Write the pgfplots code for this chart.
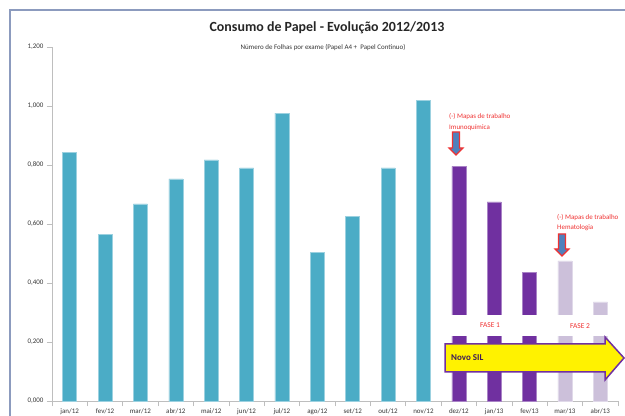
\documentclass[border=0pt]{standalone}
\usepackage{pgfplots}
\pgfplotsset{compat=1.18}
\usepackage{fontspec}
\setmainfont{Carlito}
\definecolor{teal1}{HTML}{4BACC6}
\definecolor{purp}{HTML}{7030A0}
\definecolor{lav}{HTML}{CCC0DA}
\definecolor{framec}{RGB}{140,155,190}
\definecolor{axgray}{RGB}{190,190,190}
\definecolor{txt}{RGB}{55,55,55}
\definecolor{steel}{HTML}{4F81BD}
\definecolor{redt}{RGB}{240,50,50}
\begin{document}
\begin{tikzpicture}
\path[use as bounding box] (0bp,0bp) rectangle (625bp,416bp);
\begin{scope}
\clip (0bp,0bp) rectangle (625bp,416bp);
\fill[white] (0bp,0bp) rectangle (625bp,416bp);
\draw[framec, line width=2bp] (10bp,-2bp) -- (10bp,406bp) -- (630bp,406bp);
\begin{axis}[at={(52bp,15bp)}, anchor=south west, scale only axis,
  width=566bp, height=354bp,
  xmin=-0.5, xmax=15.5, ymin=0, ymax=1.2,
  axis x line*=bottom, axis y line*=left,
  axis line style={axgray, line width=0.6bp},
  ytick={0,0.2,0.4,0.6,0.8,1.0,1.2},
  yticklabel style={/pgf/number format/.cd, fixed, fixed zerofill, precision=3, use comma, assume math mode=true},
  xtick={0,1,2,3,4,5,6,7,8,9,10,11,12,13,14,15},
  xticklabels={jan/12,fev/12,mar/12,abr/12,mai/12,jun/12,jul/12,ago/12,set/12,out/12,nov/12,dez/12,jan/13,fev/13,mar/13,abr/13},
  minor xtick={-0.5,0.5,1.5,2.5,3.5,4.5,5.5,6.5,7.5,8.5,9.5,10.5,11.5,12.5,13.5,14.5,15.5},
  tick align=outside, major tick length=5bp, minor tick length=5bp,
  major x tick style={draw=none}, minor x tick style={axgray, line width=0.6bp},
  y tick style={axgray, line width=0.6bp},
  ticklabel style={font=\fontsize{7}{8}\selectfont, text=txt},
  xticklabel style={yshift=0.5bp},
  clip=false,
]
\addplot[ybar, bar shift=0pt, bar width=14bp, fill=teal1, draw=teal1!55!white, line width=0.5bp]
  coordinates {(0,0.844) (1,0.566) (2,0.668) (3,0.753) (4,0.817) (5,0.790) (6,0.976) (7,0.503) (8,0.627) (9,0.790) (10,1.020)};
\addplot[ybar, bar shift=0pt, bar width=14bp, fill=purp, draw=purp!60!white, line width=0.5bp]
  coordinates {(11,0.795) (12,0.675) (13,0.437)};
\addplot[ybar, bar shift=0pt, bar width=14bp, fill=lav, draw=lav!60!white, line width=0.5bp]
  coordinates {(14,0.475) (15,0.336)};
\fill[white] (axis cs:10.5,0.22) rectangle (axis cs:15.45,0.292);
\end{axis}
\begin{scope}[x=1bp,y=1bp]
\node[font=\bfseries\fontsize{14}{16}\selectfont, text=black!85] at (327,388) {Consumo de Papel - Evolução 2012/2013};
\node[font=\fontsize{7}{8}\selectfont, text=txt] at (323,368) {Número de Folhas por exame (Papel A4 +\ \ Papel Continuo)};
% red arrows
\draw[redt, line width=1.2bp, fill=steel, line join=miter] (452.5,284) -- (459.5,284) -- (459.5,268) -- (463,268) -- (456,261) -- (449,268) -- (452.5,268) -- cycle;
\draw[redt, line width=1.2bp, fill=steel, line join=miter] (558.5,182) -- (565.5,182) -- (565.5,167) -- (569,167) -- (562,160) -- (555,167) -- (558.5,167) -- cycle;
\node[anchor=west, inner sep=0pt, font=\fontsize{7}{8}\selectfont, text=redt] at (449,299) {(-) Mapas\ de trabalho};
\node[anchor=west, inner sep=0pt, font=\fontsize{7}{8}\selectfont, text=redt] at (449,288) {Imunoquímica};
\node[anchor=west, inner sep=0pt, font=\fontsize{7}{8}\selectfont, text=redt] at (557,198) {(-) Mapas\ de trabalho};
\node[anchor=west, inner sep=0pt, font=\fontsize{7}{8}\selectfont, text=redt] at (557,188) {Hematologia};
\node[font=\fontsize{7.5}{9}\selectfont, text=redt] at (490,91) {FASE 1};
\node[font=\fontsize{7.5}{9}\selectfont, text=redt] at (580,90) {FASE 2};
% Novo SIL arrow
\draw[purp, line width=1.5bp, fill=yellow, line join=miter] (445,72) -- (605,72) -- (605,79) -- (624,58) -- (605,36) -- (605,44) -- (445,44) -- cycle;
\node[anchor=west, inner sep=0pt, font=\bfseries\fontsize{9}{10}\selectfont, text=purp!55!black] at (451,58) {Novo SIL};
\end{scope}
\end{scope}
\end{tikzpicture}
\end{document}
